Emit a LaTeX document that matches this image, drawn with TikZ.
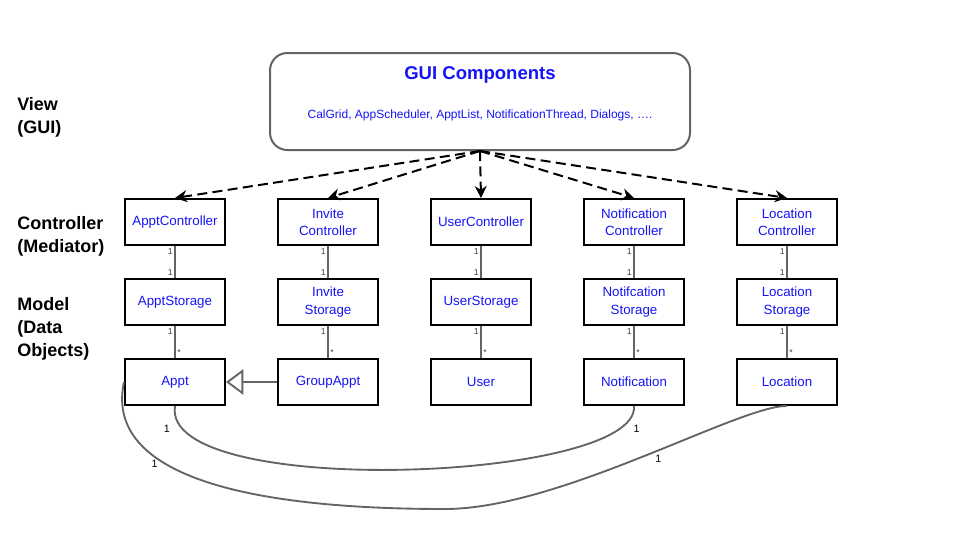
\documentclass[tikz,border=0pt]{standalone}
\usepackage{fontspec}
\setmainfont{Liberation Sans}
\usetikzlibrary{positioning,arrows.meta}
\definecolor{uiblue}{RGB}{20,20,245}
\definecolor{linkgray}{RGB}{100,100,100}

\begin{document}
\begin{tikzpicture}[x=0.75pt, y=-0.75pt, >={Stealth[length=9pt, width=9pt]}, node distance=24pt and 38.25pt,
  box/.style={rectangle, draw, line width=1.5pt, minimum width=75pt, minimum height=34.5pt,
    align=center, text=uiblue, inner sep=1pt, font=\fontsize{10}{13}\selectfont},
  layer/.style={anchor=west, align=left, inner sep=0pt, font=\bfseries\fontsize{13.5}{17.2}\selectfont},
  uses/.style={->, dashed, line width=1.5pt, dash pattern=on 7.5pt off 4pt},
  assoc/.style={draw=linkgray, line width=1.4pt},
  mult/.style={font=\fontsize{6.5}{6.5}\selectfont, inner sep=1pt, text=black!75},
  ends/.style={font=\fontsize{8}{8}\selectfont, inner sep=1pt}]

  \useasboundingbox (0,0) rectangle (960,540);

  % layer labels
  \node[layer] (view)  at (17,117)   {View\\(GUI)};
  \node[layer] (ctrl)  at (17,236.5) {Controller\\(Mediator)};
  \node[layer] (model) at (17,328.5) {Model\\(Data\\Objects)};

  % view
  \node[draw=linkgray, line width=1.5pt, rounded corners=13pt, minimum width=315pt,
        minimum height=72.75pt] (gui) at (480,101.5) {};
  \node[text=uiblue, font=\bfseries\fontsize{13.9}{16}\selectfont] (guititle) at (480,74.5) {GUI Components};
  \node[text=uiblue, font=\fontsize{9}{10}\selectfont] (guilist) at (480,115)
    {CalGrid, AppScheduler, ApptList, NotificationThread, Dialogs, \dots.};

  % controllers
  \node[box] (ac) at (175,222) {ApptController};
  \node[box] (ic) [right=of ac] {Invite\\Controller};
  \node[box] (uc) [right=of ic] {UserController};
  \node[box] (nc) [right=of uc] {Notification\\Controller};
  \node[box] (lc) [right=of nc] {Location\\Controller};

  % storages
  \node[box] (as) [below=of ac] {ApptStorage};
  \node[box] (is) [below=of ic] {Invite\\Storage};
  \node[box] (us) [below=of uc] {UserStorage};
  \node[box] (ns) [below=of nc] {Notifcation\\Storage};
  \node[box] (ls) [below=of lc] {Location\\Storage};

  % data objects
  \node[box] (ao) [below=of as] {Appt};
  \node[box] (go) [below=of is] {GroupAppt};
  \node[box] (uo) [below=of us] {User};
  \node[box] (no) [below=of ns] {Notification};
  \node[box] (lo) [below=of ls] {Location};

  \path[uses] (gui.south) edge (ac.north)
                          edge (ic.north)
                          edge (uc.north)
                          edge (nc.north)
                          edge (lc.north);

  \foreach \c/\s/\o in {ac/as/ao, ic/is/go, uc/us/uo, nc/ns/no, lc/ls/lo} {
    \path (\c) edge[assoc] node[mult, at start, below left] {1}
                           node[mult, at end, above left] {1} (\s)
          (\s) edge[assoc] node[mult, at start, below left] {1}
                           node[mult, at end, above right] {*} (\o);
  }

  \draw[assoc, -{Triangle[open, length=13pt, width=19pt]}] (go) -- (ao);

  \draw[assoc] (ao.south) .. controls (160,500) and (640,482) .. (no.south)
    node[ends, pos=0.06, left=4pt, yshift=-5pt] {1}
    node[ends, pos=0.94, right=1pt, yshift=-7pt] {1};
  \draw[assoc] (ao.west) .. controls (105,470) and (230,509) .. (445,509)
    node[ends, pos=0.35, below=1pt] {1}
    .. controls (560,509) and (740,405) .. (lo.south)
    node[ends, pos=0.53, below right] {1};

\end{tikzpicture}
\end{document}
